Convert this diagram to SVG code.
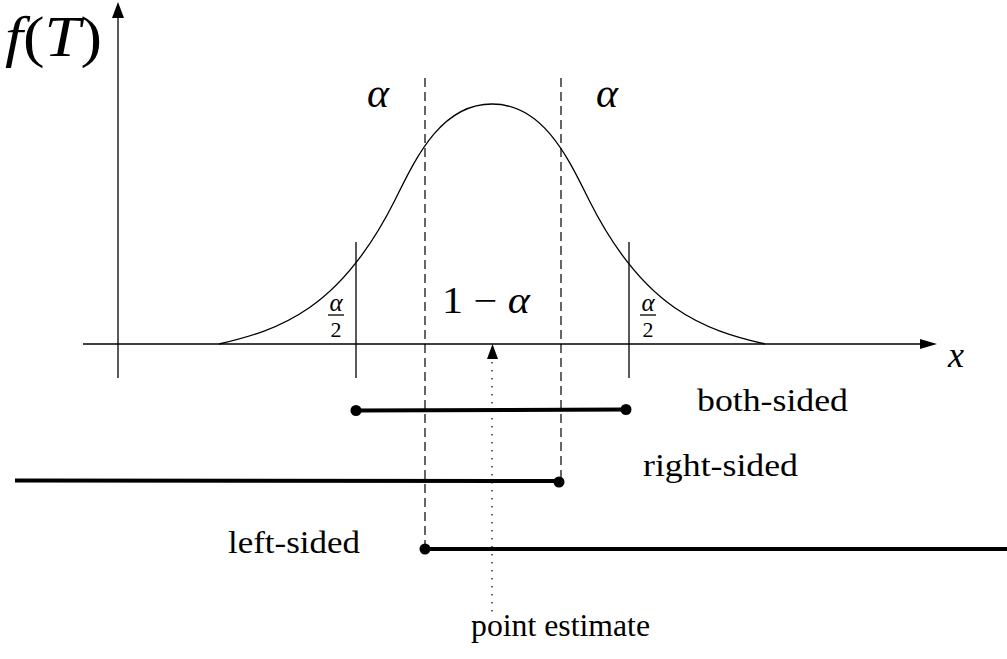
<svg xmlns="http://www.w3.org/2000/svg" width="1007" height="659" viewBox="0 0 1007 659">
<style>
.ln{stroke:#000;stroke-width:1.3;fill:none}
.dash{stroke:#000;stroke-width:1.2;fill:none;stroke-dasharray:9 5}
.dot{stroke:#444;stroke-width:1.6;fill:none;stroke-dasharray:1.6 6.4}
.bar{stroke:#000;stroke-width:4;fill:none}
.t{font-family:"Liberation Serif","DejaVu Serif",serif;fill:#000}
.m{font-family:"Liberation Serif","DejaVu Serif",serif;font-style:italic;fill:#000}
</style>
<rect width="1007" height="659" fill="#fff"/>
<g id="connectors">
  <g id="axes">
    <line class="ln" x1="118" y1="378" x2="118" y2="16"/>
    <polygon points="118,2 112,18 124,18" fill="#000"/>
    <line class="ln" x1="83" y1="344" x2="922" y2="344"/>
    <polygon points="937,344 920,339 920,349" fill="#000"/>
  </g>
  <path id="curve" class="ln" d="M219,344 C279,330 340,310 395,200 C415,160 440,104 492,104 C544,104 569,160 589,200 C644,310 705,330 765,344"/>
  <g id="bounds">
    <line class="ln" x1="356" y1="242" x2="356" y2="378"/>
    <line class="ln" x1="629" y1="242" x2="629" y2="378"/>
    <line class="dash" x1="425" y1="78" x2="425" y2="548"/>
    <line class="dash" x1="561" y1="78" x2="561" y2="480"/>
  </g>
  <g id="point-estimate-arrow">
    <line class="dot" x1="492" y1="362" x2="492" y2="614"/>
    <polygon points="492.5,344 487,359 498,359" fill="#000"/>
  </g>
</g>
<g id="both-sided">
  <line class="bar" x1="356" y1="410.5" x2="626" y2="409.5"/>
  <circle cx="356" cy="410.5" r="5.5"/>
  <circle cx="626" cy="409.5" r="5.5"/>
  <text class="t" x="697" y="411" font-size="32" textLength="151" lengthAdjust="spacingAndGlyphs">both-sided</text>
</g>
<g id="right-sided">
  <line class="bar" x1="15" y1="480.5" x2="559" y2="481"/>
  <circle cx="559" cy="482" r="5.5"/>
  <text class="t" x="643" y="476" font-size="32" textLength="155" lengthAdjust="spacingAndGlyphs">right-sided</text>
</g>
<g id="left-sided">
  <line class="bar" x1="425" y1="549" x2="1007" y2="549"/>
  <circle cx="425" cy="549" r="5.5"/>
  <text class="t" x="228" y="553" font-size="32" textLength="132" lengthAdjust="spacingAndGlyphs">left-sided</text>
</g>
<g id="point-estimate">
  <text class="t" x="471" y="636" font-size="32" textLength="179" lengthAdjust="spacingAndGlyphs">point estimate</text>
</g>
<g id="labels">
  <text x="5" y="56" font-size="58" textLength="97" lengthAdjust="spacingAndGlyphs"><tspan class="m">f</tspan><tspan class="t">(</tspan><tspan class="m">T</tspan><tspan class="t">)</tspan></text>
  <text class="m" x="378" y="107" font-size="42" text-anchor="middle">α</text>
  <text class="m" x="607" y="107" font-size="42" text-anchor="middle">α</text>
  <text class="t" x="442" y="313" font-size="37" textLength="88" lengthAdjust="spacingAndGlyphs">1 − <tspan class="m">α</tspan></text>
  <text class="m" x="948" y="367" font-size="36">x</text>
  <g id="half-alpha-left">
    <text class="m" x="336" y="311" font-size="25" text-anchor="middle">α</text>
    <line class="ln" x1="328" y1="315" x2="344" y2="315"/>
    <text class="t" x="336" y="337" font-size="22" text-anchor="middle">2</text>
  </g>
  <g id="half-alpha-right">
    <text class="m" x="648" y="311" font-size="25" text-anchor="middle">α</text>
    <line class="ln" x1="640" y1="315" x2="656" y2="315"/>
    <text class="t" x="648" y="337" font-size="22" text-anchor="middle">2</text>
  </g>
</g>
</svg>
